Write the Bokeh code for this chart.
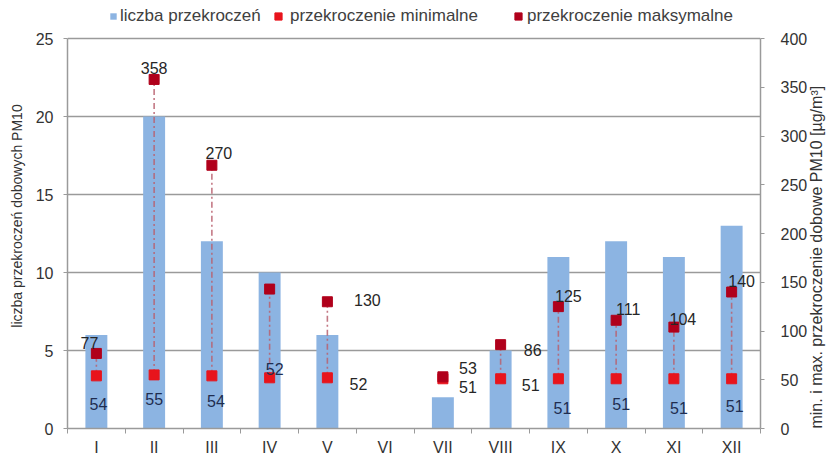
import math
from bokeh.plotting import figure
from bokeh.models import (ColumnDataSource, Range1d, LinearAxis, FixedTicker,
                          Legend, LegendItem)
from bokeh.core.properties import value
from bokeh.embed import file_html
from bokeh.resources import INLINE

# ---------------- data ----------------
months = ["I", "II", "III", "IV", "V", "VI", "VII", "VIII", "IX", "X", "XI", "XII"]
exceed_count = [6, 20, 12, 10, 6, 0, 2, 5, 11, 12, 11, 13]
min_exceed = [54, 55, 54, 52, 52, None, 51, 51, 51, 51, 51, 51]
max_exceed = [77, 358, 270, 143, 130, None, 53, 86, 125, 111, 104, 140]
max_label_visible = [True, True, True, False, True, False, True, True, True, True, True, True]
left_ticks = [0, 5, 10, 15, 20, 25]
right_ticks = [0, 50, 100, 150, 200, 250, 300, 350, 400]

# ---------------- styling (label offsets in px) ----------------
min_dx = [2, 0, 4, 5, 31, 0, 25, 30, 4, 5, 5, 3]
min_dy = [28, 24, 25, -9, 6, 0, 8, 6, 29, 25, 29, 27]
min_col = ["#1f2d50", "#1f2d50", "#1f2d50", "#1f2d50", "#262626", "#262626",
           "#262626", "#262626", "#1f2d50", "#1f2d50", "#1f2d50", "#1f2d50"]
max_dx = [-7, 0, 7, 0, 40, 0, 25, 32, 10, 12, 9, 10]
max_dy = [-10, -11, -12, 0, -2, 0, -9, 5, -11, -11, -8, -11]

FONT = "Liberation Sans"
BAR = "#8cb4e2"
MIN_C = "#e8141c"
MAX_C = "#b0001b"
GRID = "#9a9a9a"

# plot area: 390 px for the axis span plus headroom for the legend
AXIS_PX = 390
HEAD_PX = 35
stretch = (AXIS_PX + HEAD_PX) / AXIS_PX

xs = list(range(1, len(months) + 1))

bar_src = ColumnDataSource(dict(x=xs, top=exceed_count))

valid = [i for i in range(len(months)) if min_exceed[i] is not None]
pt_src = ColumnDataSource(dict(
    x=[xs[i] for i in valid],
    vmin=[min_exceed[i] for i in valid],
    vmax=[max_exceed[i] for i in valid],
))
min_lab = ColumnDataSource(dict(
    x=[xs[i] for i in valid],
    y=[min_exceed[i] for i in valid],
    t=[str(min_exceed[i]) for i in valid],
    dx=[min_dx[i] for i in valid],
    dy=[min_dy[i] for i in valid],
    c=[min_col[i] for i in valid],
))
vmax_idx = [i for i in valid if max_label_visible[i]]
max_lab = ColumnDataSource(dict(
    x=[xs[i] for i in vmax_idx],
    y=[max_exceed[i] for i in vmax_idx],
    t=[str(max_exceed[i]) for i in vmax_idx],
    dx=[max_dx[i] for i in vmax_idx],
    dy=[max_dy[i] for i in vmax_idx],
))

left_max = left_ticks[-1]
right_max = right_ticks[-1]

p = figure(frame_width=693, frame_height=AXIS_PX + HEAD_PX, output_backend="svg",
           toolbar_location=None,
           x_range=Range1d(0.5, len(months) + 0.5), y_range=Range1d(0, left_max * stretch),
           min_border_left=67, min_border_right=62, min_border_top=3,
           min_border_bottom=30)
p.extra_y_ranges = {"right": Range1d(0, right_max * stretch)}
p.outline_line_color = None
p.background_fill_color = "white"
p.border_fill_color = "white"

# grid
p.xgrid.grid_line_color = None
p.ygrid.ticker = FixedTicker(ticks=left_ticks)
p.ygrid.grid_line_color = GRID
p.ygrid.grid_line_width = 1.5

# bars
bars = p.vbar(x="x", top="top", width=0.38, source=bar_src, fill_color=BAR,
              line_color=None)

# dash-dot connectors
p.segment(x0="x", y0="vmin", x1="x", y1="vmax", source=pt_src, y_range_name="right",
          line_color="#b8606e", line_width=1.6, line_dash="6 3 2 3", line_alpha=0.85)

mins = p.scatter(x="x", y="vmin", source=pt_src, y_range_name="right", marker="square",
                 size=10, fill_color=MIN_C, line_color=MIN_C)
maxs = p.scatter(x="x", y="vmax", source=pt_src, y_range_name="right", marker="square",
                 size=10, fill_color=MAX_C, line_color=MAX_C)

p.text(x="x", y="y", text="t", source=min_lab, y_range_name="right",
       x_offset="dx", y_offset="dy", text_color="c", text_font=value(FONT),
       text_font_size="16px", text_align="center", text_baseline="middle")
p.text(x="x", y="y", text="t", source=max_lab, y_range_name="right",
       x_offset="dx", y_offset="dy", text_color="#262626", text_font=value(FONT),
       text_font_size="16px", text_align="center", text_baseline="middle")

# axes
xa = p.xaxis[0]
xa.ticker = FixedTicker(ticks=xs, minor_ticks=[x - 0.5 for x in xs] + [len(xs) + 0.5])
xa.major_label_overrides = {x: m for x, m in zip(xs, months)}
xa.major_tick_line_color = None
xa.minor_tick_line_color = GRID
xa.minor_tick_out = 5
xa.minor_tick_in = 0
xa.axis_line_color = GRID
xa.axis_line_width = 1.5
xa.major_label_text_font = FONT
xa.major_label_text_font_size = "16px"
xa.major_label_text_color = "#333333"
xa.major_label_standoff = 4

ya = p.yaxis[0]
ya.ticker = FixedTicker(ticks=left_ticks)
ya.bounds = (0, left_max)
ya.minor_tick_line_color = None
ya.major_tick_line_color = GRID
ya.major_tick_out = 4
ya.major_tick_in = 0
ya.axis_line_color = GRID
ya.axis_line_width = 1.5
ya.major_label_text_font = FONT
ya.major_label_text_font_size = "16px"
ya.major_label_text_color = "#333333"
ya.major_label_standoff = 10
ya.axis_label = "liczba przekroczeń dobowych PM10"
ya.axis_label_text_font = FONT
ya.axis_label_text_font_size = "14px"
ya.axis_label_text_font_style = "normal"
ya.axis_label_text_color = "#333333"
ya.axis_label_standoff = 8

ra = LinearAxis(y_range_name="right", ticker=FixedTicker(ticks=right_ticks),
                bounds=(0, right_max))
ra.minor_tick_line_color = None
ra.major_tick_line_color = GRID
ra.major_tick_out = 4
ra.major_tick_in = 0
ra.axis_line_color = GRID
ra.axis_line_width = 1.5
ra.major_label_text_font = FONT
ra.major_label_text_font_size = "16px"
ra.major_label_text_color = "#333333"
ra.major_label_standoff = 16
ra.axis_label = "min. i max. przekroczenie dobowe PM10 [µg/m³]"
ra.axis_label_text_font = FONT
ra.axis_label_text_font_size = "16px"
ra.axis_label_text_font_style = "normal"
ra.axis_label_text_color = "#333333"
ra.axis_label_standoff = 6
props = ra.properties()
if "axis_label_orientation" in props and "axis_label_align" in props:
    ra.axis_label_orientation = math.pi / 2
    ra.axis_label_align = "start"
p.add_layout(ra, "right")

# legend in the headroom above the axis span (glyph box, position, standoff)
leg_specs = [("liczba przekroczeń", bars, 42, 8, 3),
             ("przekroczenie minimalne", mins, 202, 18, 3),
             ("przekroczenie maksymalne", maxs, 442, 18, 0)]
for lab, rend, lx, gsz, stand in leg_specs:
    lg = Legend(items=[LegendItem(label=lab, renderers=[rend])],
                location=(lx, AXIS_PX + HEAD_PX - 23),
                orientation="horizontal", glyph_width=gsz, glyph_height=gsz,
                label_standoff=stand, padding=0, margin=0, border_line_color=None,
                background_fill_alpha=0, label_text_font=FONT,
                label_text_font_size="17px", label_text_color="#404040")
    p.add_layout(lg, "center")

open("out.html", "w").write(file_html(p, INLINE))
